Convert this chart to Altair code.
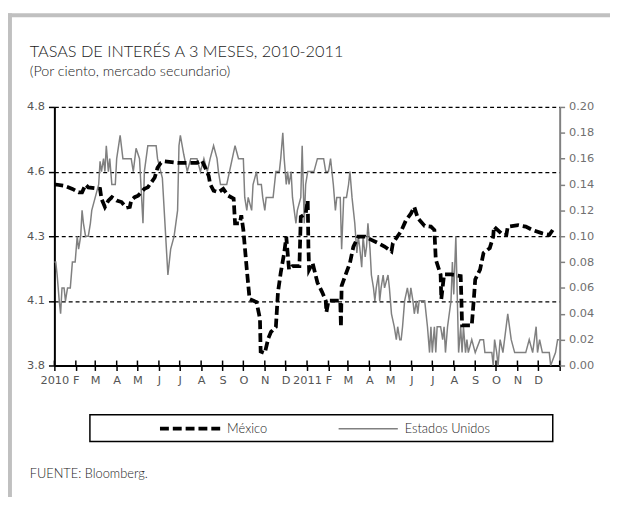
import altair as alt
import pandas as pd

# ---------------- data ----------------
mx_dates = [
    "2010-01-01", "2010-01-03", "2010-01-15", "2010-01-27", "2010-02-05", "2010-02-10",
    "2010-02-15", "2010-02-19", "2010-03-08", "2010-03-10", "2010-03-15", "2010-03-20",
    "2010-03-25", "2010-04-01", "2010-04-08", "2010-04-15", "2010-04-20", "2010-04-22",
    "2010-04-27", "2010-05-02", "2010-05-11", "2010-05-16", "2010-05-21", "2010-05-26",
    "2010-05-30", "2010-06-04", "2010-06-09", "2010-06-28", "2010-07-26", "2010-08-02",
    "2010-08-07", "2010-08-12", "2010-08-14", "2010-08-19", "2010-08-26", "2010-09-02",
    "2010-09-09", "2010-09-17", "2010-09-19", "2010-09-26", "2010-09-28", "2010-10-01",
    "2010-10-06", "2010-10-10", "2010-10-20", "2010-10-25", "2010-10-26", "2010-11-01",
    "2010-11-06", "2010-11-10", "2010-11-17", "2010-11-20", "2010-11-24", "2010-11-29",
    "2010-12-02", "2010-12-04", "2010-12-06", "2010-12-11", "2010-12-21", "2010-12-23",
    "2010-12-30", "2011-01-02", "2011-01-03", "2011-01-04", "2011-01-09", "2011-01-16",
    "2011-01-23", "2011-01-28", "2011-01-29", "2011-02-01", "2011-02-18", "2011-02-19",
    "2011-02-20", "2011-02-25", "2011-03-04", "2011-03-09", "2011-03-16", "2011-03-26",
    "2011-04-04", "2011-04-14", "2011-04-23", "2011-05-03", "2011-05-05", "2011-05-17",
    "2011-05-24", "2011-05-31", "2011-06-05", "2011-06-10", "2011-06-20", "2011-06-29",
    "2011-07-04", "2011-07-06", "2011-07-13", "2011-07-14", "2011-07-18", "2011-07-28",
    "2011-08-11", "2011-08-12", "2011-08-13", "2011-08-27", "2011-08-30", "2011-09-01",
    "2011-09-08", "2011-09-13", "2011-09-22", "2011-09-27", "2011-09-28", "2011-10-11",
    "2011-10-16", "2011-10-18", "2011-11-02", "2011-11-13", "2011-11-23", "2011-12-07",
    "2011-12-17", "2011-12-22",
]
mx_values = [
    4.50, 4.50, 4.495, 4.483, 4.47, 4.47,
    4.499, 4.489, 4.483, 4.445, 4.413, 4.438,
    4.451, 4.438, 4.432, 4.41, 4.413, 4.438,
    4.451, 4.457, 4.483, 4.489, 4.508, 4.527,
    4.565, 4.584, 4.59, 4.584, 4.584, 4.593,
    4.565, 4.533, 4.502, 4.476, 4.47, 4.483,
    4.457, 4.445, 4.35, 4.35, 4.381, 4.324,
    4.171, 4.057, 4.045, 3.981, 3.854, 3.848,
    3.905, 3.93, 3.949, 4.083, 4.159, 4.235,
    4.298, 4.235, 4.171, 4.184, 4.184, 4.375,
    4.387, 4.438, 4.26, 4.171, 4.197, 4.121,
    4.083, 4.051, 4.006, 4.051, 4.051, 3.949,
    4.108, 4.146, 4.197, 4.26, 4.298, 4.298,
    4.286, 4.273, 4.26, 4.241, 4.273, 4.32,
    4.362, 4.387, 4.413, 4.37, 4.34, 4.337,
    4.324, 4.21, 4.152, 4.057, 4.152, 4.152,
    4.146, 4.057, 3.955, 3.955, 4.057, 4.133,
    4.171, 4.235, 4.254, 4.298, 4.337, 4.305,
    4.305, 4.337, 4.343, 4.337, 4.324, 4.311,
    4.305, 4.324,
]

us_dates = [
    "2010-01-01", "2010-01-03", "2010-01-05", "2010-01-08", "2010-01-10", "2010-01-12",
    "2010-01-15", "2010-01-17", "2010-01-20", "2010-01-24", "2010-01-27", "2010-01-31",
    "2010-02-03", "2010-02-05", "2010-02-08", "2010-02-10", "2010-02-12", "2010-02-15",
    "2010-02-19", "2010-02-22", "2010-02-24", "2010-03-01", "2010-03-06", "2010-03-08",
    "2010-03-10", "2010-03-13", "2010-03-15", "2010-03-17", "2010-03-20", "2010-03-22",
    "2010-03-25", "2010-03-30", "2010-04-01", "2010-04-06", "2010-04-10", "2010-04-22",
    "2010-04-25", "2010-04-29", "2010-05-04", "2010-05-09", "2010-05-11", "2010-05-16",
    "2010-05-28", "2010-05-30", "2010-06-06", "2010-06-14", "2010-06-18", "2010-06-23",
    "2010-06-28", "2010-06-30", "2010-07-02", "2010-07-07", "2010-07-12", "2010-07-17",
    "2010-07-26", "2010-07-31", "2010-08-05", "2010-08-10", "2010-08-14", "2010-08-19",
    "2010-08-24", "2010-08-26", "2010-08-29", "2010-09-07", "2010-09-19", "2010-09-24",
    "2010-10-01", "2010-10-03", "2010-10-06", "2010-10-08", "2010-10-13", "2010-10-15",
    "2010-10-20", "2010-10-22", "2010-10-27", "2010-10-29", "2010-11-01", "2010-11-03",
    "2010-11-13", "2010-11-15", "2010-11-17", "2010-11-22", "2010-11-24", "2010-11-27",
    "2010-11-29", "2010-12-02", "2010-12-04", "2010-12-06", "2010-12-09", "2010-12-11",
    "2010-12-16", "2010-12-18", "2010-12-23", "2010-12-25", "2010-12-28", "2010-12-30",
    "2011-01-02", "2011-01-06", "2011-01-11", "2011-01-16", "2011-01-25", "2011-01-28",
    "2011-02-01", "2011-02-04", "2011-02-06", "2011-02-08", "2011-02-11", "2011-02-13",
    "2011-02-18", "2011-02-20", "2011-02-23", "2011-02-27", "2011-03-02", "2011-03-04",
    "2011-03-07", "2011-03-09", "2011-03-11", "2011-03-14", "2011-03-16", "2011-03-18",
    "2011-03-21", "2011-03-23", "2011-03-26", "2011-03-28", "2011-03-30", "2011-04-02",
    "2011-04-04", "2011-04-07", "2011-04-09", "2011-04-11", "2011-04-14", "2011-04-16",
    "2011-04-18", "2011-04-21", "2011-04-23", "2011-04-28", "2011-04-30", "2011-05-03",
    "2011-05-07", "2011-05-10", "2011-05-12", "2011-05-15", "2011-05-17", "2011-05-19",
    "2011-05-22", "2011-05-26", "2011-05-29", "2011-05-31", "2011-06-03", "2011-06-05",
    "2011-06-08", "2011-06-10", "2011-06-12", "2011-06-20", "2011-06-24", "2011-06-27",
    "2011-06-29", "2011-07-01", "2011-07-04", "2011-07-06", "2011-07-08", "2011-07-13",
    "2011-07-16", "2011-07-18", "2011-07-20", "2011-07-23", "2011-07-28", "2011-07-30",
    "2011-08-01", "2011-08-04", "2011-08-06", "2011-08-08", "2011-08-11", "2011-08-13",
    "2011-08-15", "2011-08-18", "2011-08-20", "2011-08-22", "2011-08-27", "2011-09-01",
    "2011-09-08", "2011-09-13", "2011-09-15", "2011-09-25", "2011-09-27", "2011-09-29",
    "2011-10-02", "2011-10-04", "2011-10-07", "2011-10-11", "2011-10-18", "2011-10-23",
    "2011-10-28", "2011-11-04", "2011-11-13", "2011-11-18", "2011-11-23", "2011-11-28",
    "2011-11-30", "2011-12-03", "2011-12-07", "2011-12-17", "2011-12-19", "2011-12-26",
    "2011-12-29", "2011-12-31",
]
us_values = [
    0.08, 0.08, 0.07, 0.05, 0.04, 0.06,
    0.06, 0.05, 0.06, 0.06, 0.08, 0.08,
    0.10, 0.09, 0.10, 0.12, 0.11, 0.10,
    0.10, 0.11, 0.12, 0.13, 0.14, 0.158,
    0.15, 0.16, 0.15, 0.17, 0.15, 0.16,
    0.14, 0.14, 0.16, 0.178, 0.16, 0.16,
    0.15, 0.168, 0.16, 0.11, 0.15, 0.17,
    0.17, 0.16, 0.145, 0.07, 0.09, 0.10,
    0.12, 0.17, 0.178, 0.163, 0.15, 0.16,
    0.16, 0.15, 0.16, 0.15, 0.16, 0.17,
    0.16, 0.15, 0.14, 0.14, 0.17, 0.16,
    0.16, 0.13, 0.12, 0.13, 0.12, 0.14,
    0.15, 0.14, 0.14, 0.13, 0.12, 0.13,
    0.13, 0.14, 0.15, 0.15, 0.16, 0.18,
    0.16, 0.14, 0.15, 0.14, 0.15, 0.13,
    0.11, 0.12, 0.13, 0.17, 0.11, 0.14,
    0.15, 0.15, 0.15, 0.16, 0.16, 0.15,
    0.15, 0.16, 0.15, 0.14, 0.12, 0.13,
    0.13, 0.09, 0.13, 0.13, 0.14, 0.15,
    0.13, 0.12, 0.11, 0.087, 0.10, 0.092,
    0.076, 0.10, 0.084, 0.092, 0.11, 0.09,
    0.07, 0.06, 0.05, 0.06, 0.07, 0.05,
    0.06, 0.07, 0.06, 0.07, 0.06, 0.04,
    0.03, 0.02, 0.03, 0.02, 0.02, 0.03,
    0.05, 0.06, 0.05, 0.06, 0.05, 0.04,
    0.05, 0.04, 0.05, 0.05, 0.03, 0.01,
    0.03, 0.01, 0.03, 0.01, 0.03, 0.03,
    0.02, 0.03, 0.01, 0.03, 0.05, 0.08,
    0.055, 0.10, 0.055, 0.01, 0.03, 0.01,
    0.03, 0.01, 0.02, 0.01, 0.02, 0.01,
    0.02, 0.02, 0.01, 0.01, 0.00, 0.02,
    0.01, 0.00, 0.02, 0.01, 0.04, 0.02,
    0.01, 0.01, 0.01, 0.02, 0.01, 0.03,
    0.01, 0.02, 0.01, 0.01, 0.00, 0.01,
    0.02, 0.02,
]

series_names = ["México", "Estados Unidos"]
month_initials = ["E", "F", "M", "A", "M", "J", "J", "A", "S", "O", "N", "D"]
left_ticks = [3.8, 4.05, 4.3, 4.55, 4.8]
right_ticks = [0.0, 0.02, 0.04, 0.06, 0.08, 0.10, 0.12, 0.14, 0.16, 0.18, 0.20]
title_text = "TASAS DE INTERÉS A 3 MESES, 2010-2011"
subtitle_text = "(Por ciento, mercado secundario)"
source_text = "FUENTE: Bloomberg."

mx = pd.DataFrame({"fecha": mx_dates, "tasa": mx_values})
us = pd.DataFrame({"fecha": us_dates, "tasa": us_values})

# month-start tick positions (Jan 2010 .. Jan 2012)
tick_strings = ["%d-%02d-01" % (2010 + i // 12, i % 12 + 1) for i in range(25)]
ticks_df = pd.DataFrame({"fecha": tick_strings})

# ---------------- scales & axes ----------------
W, H = 512, 262
tick_dates = [alt.DateTime(year=2010 + i // 12, month=i % 12 + 1, date=1, utc=True) for i in range(25)]
x_scale = alt.Scale(
    type="utc",
    domain=[alt.DateTime(year=2010, month=1, date=1, utc=True),
            alt.DateTime(year=2012, month=1, date=1, utc=True)],
)
initials_js = "[" + ",".join("'%s'" % m for m in month_initials) + "]"
x_label_expr = (
    "utcmonth(datum.value)==0 ? (utcyear(datum.value)>=2012 ? '' : utcFormat(datum.value,'%Y')) : "
    + initials_js + "[utcmonth(datum.value)]"
)
AXIS_FONT = "DejaVu Sans"
x_axis = alt.Axis(
    values=tick_dates,
    labelExpr=x_label_expr,
    labelOverlap=False,
    labelFlush=False,
    labelBound=False,
    labelFont=AXIS_FONT,
    labelFontSize=11.5,
    labelColor="#555555",
    labelPadding=4,
    domainColor="black",
    domainWidth=2,
    tickColor="black",
    tickWidth=1.5,
    tickSize=5,
    grid=False,
    title=None,
)

x_enc = alt.X("fecha:T", scale=x_scale, axis=x_axis)

mx_line = alt.Chart(mx).mark_line(
    color="black", strokeWidth=3.8, strokeDash=[9, 4], strokeCap="butt"
).encode(
    x=x_enc,
    y=alt.Y(
        "tasa:Q",
        scale=alt.Scale(domain=[3.8, 4.8], zero=False, nice=False),
        axis=alt.Axis(
            orient="left",
            values=left_ticks,
            labelExpr="format(datum.value + 0.001, '.1f')",
            labelFont=AXIS_FONT,
            labelFontSize=11.5,
            labelColor="#555555",
            labelPadding=4,
            grid=True,
            gridColor="black",
            gridDash=[4, 3],
            gridWidth=1.3,
            domainColor="black",
            domainWidth=2,
            tickColor="black",
            tickWidth=1.5,
            tickSize=6,
            title=None,
        ),
    ),
)

us_line = alt.Chart(us).mark_line(color="#808080", strokeWidth=1.5).encode(
    x=x_enc,
    y=alt.Y(
        "tasa:Q",
        scale=alt.Scale(domain=[0, 0.2], nice=False),
        axis=alt.Axis(
            orient="right",
            values=right_ticks,
            format=".2f",
            labelFont=AXIS_FONT,
            labelFontSize=11.5,
            labelColor="#6f6f6f",
            labelPadding=4,
            grid=False,
            domainColor="#808080",
            domainWidth=2,
            tickColor="#808080",
            tickWidth=1.5,
            tickSize=5,
            title=None,
        ),
    ),
)

# upper half of the crossing ticks on the date axis
up_ticks = alt.Chart(ticks_df).mark_rule(color="black", strokeWidth=1.5).encode(
    x=alt.X("fecha:T", scale=x_scale, axis=x_axis),
    y=alt.value(H - 5),
    y2=alt.value(H),
)

data_layers = alt.layer(us_line, mx_line).resolve_scale(y="independent")

# ---------------- decorations (frame, titles, legend) ----------------
one = alt.Data(values=[{}])
frame_color = "#c0c0c0"
frame_left = alt.Chart(one).mark_rect(color=frame_color).encode(
    x=alt.value(-47), x2=alt.value(-43), y=alt.value(-95), y2=alt.value(400))
frame_top = alt.Chart(one).mark_rect(color=frame_color).encode(
    x=alt.value(-47), x2=alt.value(563), y=alt.value(-95), y2=alt.value(-91))

TEXT_FONT = "Lato"
title = alt.Chart(one).mark_text(
    align="left", baseline="middle", font=TEXT_FONT, fontSize=16.5, fontWeight=300,
    color="#1a1a1a"
).encode(x=alt.value(-25), y=alt.value(-56), text=alt.value(title_text))
subtitle = alt.Chart(one).mark_text(
    align="left", baseline="middle", font=TEXT_FONT, fontSize=14.5, fontWeight=300,
    color="#1a1a1a"
).encode(x=alt.value(-25), y=alt.value(-35), text=alt.value(subtitle_text))
source = alt.Chart(one).mark_text(
    align="left", baseline="middle", font=TEXT_FONT, fontSize=13, fontWeight=300,
    color="#1a1a1a"
).encode(x=alt.value(-25), y=alt.value(372), text=alt.value(source_text))

legend_box = alt.Chart(one).mark_rect(
    fill="white", fillOpacity=0, stroke="black", strokeWidth=1.5
).encode(x=alt.value(36), x2=alt.value(505), y=alt.value(312), y2=alt.value(339))
legend_mx = alt.Chart(one).mark_rule(
    color="black", strokeWidth=3.8, strokeDash=[9, 4]
).encode(x=alt.value(107), x2=alt.value(168), y=alt.value(326))
legend_us = alt.Chart(one).mark_rule(color="#808080", strokeWidth=1.5).encode(
    x=alt.value(288), x2=alt.value(348), y=alt.value(326))
legend_mx_txt = alt.Chart(one).mark_text(
    align="left", baseline="middle", font=TEXT_FONT, fontSize=13, fontWeight=300,
    color="#1a1a1a"
).encode(x=alt.value(175), y=alt.value(326), text=alt.value(series_names[0]))
legend_us_txt = alt.Chart(one).mark_text(
    align="left", baseline="middle", font=TEXT_FONT, fontSize=13, fontWeight=300,
    color="#1a1a1a"
).encode(x=alt.value(355), y=alt.value(326), text=alt.value(series_names[1]))

chart = alt.layer(
    data_layers, up_ticks,
    frame_left, frame_top, title, subtitle, source,
    legend_box, legend_mx, legend_us, legend_mx_txt, legend_us_txt,
).properties(
    width=W,
    height=H,
    padding={"left": 47, "top": 97, "right": 51, "bottom": 130},
    autosize=alt.AutoSizeParams(type="none"),
    background="white",
).configure_view(stroke=None)

chart.save("out.html", embed_options={"renderer": "svg", "actions": False})
